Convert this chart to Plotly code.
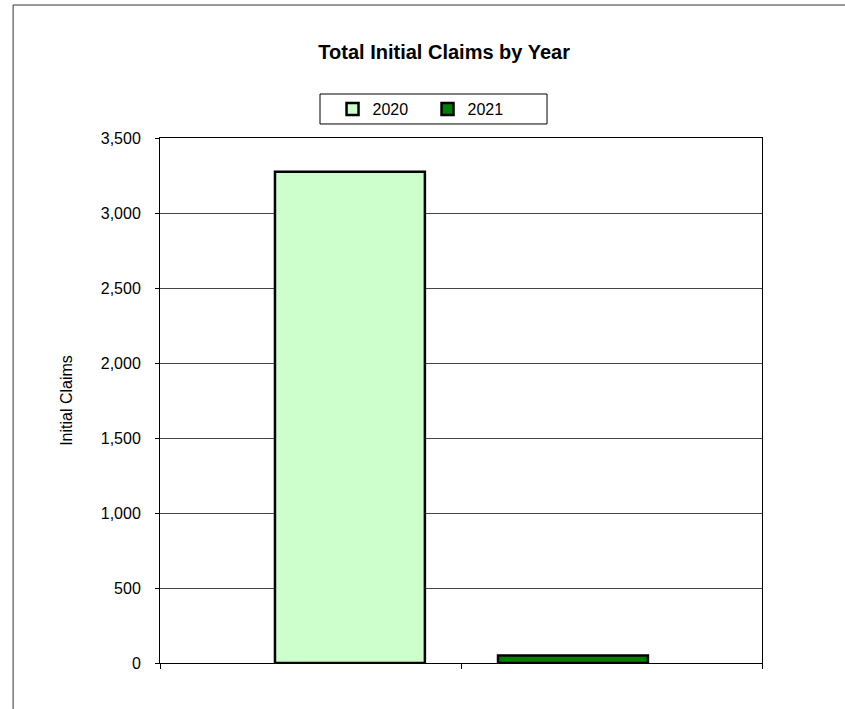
import plotly.graph_objects as go

years = ['2020', '2021']
claims = [3275, 50]
positions = [0, 1]
colors = ['#CCFFCC', '#008000']
bar_offsets = [-0.118, -0.377]

fig = go.Figure()
for yr, val, pos, col, off in zip(years, claims, positions, colors, bar_offsets):
    fig.add_trace(go.Bar(
        x=[pos], y=[val], name=yr, width=0.498, offset=off,
        marker=dict(color=col, line=dict(color='black', width=2.5)),
    ))

fig.update_layout(
    width=845, height=709,
    paper_bgcolor='white', plot_bgcolor='white',
    font=dict(family='Liberation Sans, Arial, sans-serif', size=16, color='black'),
    title=dict(text='<b>Total Initial Claims by Year</b>', xref='paper', x=0.472, xanchor='center',
               y=0.9267, yanchor='middle', font=dict(size=20)),
    margin=dict(l=160, r=83, t=138, b=46),
    barmode='overlay',
    showlegend=True,
    legend=dict(orientation='h', x=0.4444, xanchor='center', y=1.055, yanchor='middle',
                borderwidth=0, bgcolor='rgba(0,0,0,0)',
                entrywidth=50, font=dict(size=16), itemwidth=30),
)

fig.update_xaxes(range=[-0.5, 1.5], tickmode='array', tickvals=[-0.5, 0.5, 1.5],
                 showticklabels=False, ticks='outside', ticklen=5, tickcolor='black',
                 showline=True, linecolor='black', linewidth=1, mirror=True,
                 showgrid=False, zeroline=False)
fig.update_yaxes(range=[0, 3500], tickvals=list(range(0, 3501, 500)), tickformat=',',
                 ticks='outside', ticklen=4, tickcolor='black', ticklabelstandoff=11,
                 showline=True, linecolor='black', linewidth=1, mirror=True,
                 showgrid=True, gridcolor='#444444', gridwidth=1, zeroline=False,
                 title=dict(text='Initial Claims', standoff=24, font=dict(size=16)))

# outer chart border (top and left visible)
fig.add_shape(type='rect', xref='paper', yref='paper',
              x0=-0.244, x1=1.2, y0=-0.2, y1=1.2533,
              line=dict(color='#333333', width=1), fillcolor='rgba(0,0,0,0)', layer='below')
# legend box
fig.add_shape(type='rect', xref='paper', yref='paper',
              x0=0.2658, x1=0.6429, y0=1.0267, y1=1.0838,
              line=dict(color='black', width=1), fillcolor='white', layer='below')

fig.write_html('out.html', config={'displayModeBar': False},
               post_script="document.body.style.margin='0';")
